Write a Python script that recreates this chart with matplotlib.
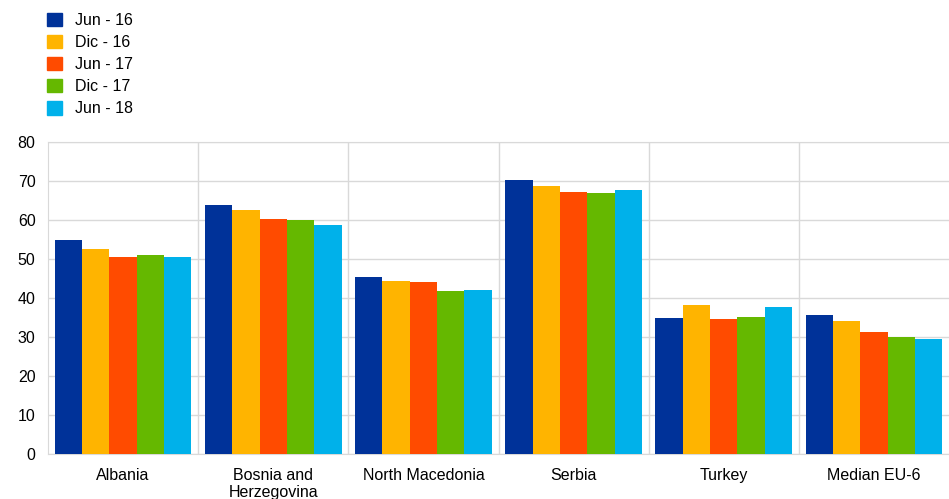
import numpy as np
import matplotlib.pyplot as plt
import matplotlib.patches as patches

# data
categories = ['Albania', 'Bosnia and\nHerzegovina', 'North Macedonia', 'Serbia', 'Turkey', 'Median EU-6']
series = ['Jun - 16', 'Dic - 16', 'Jun - 17', 'Dic - 17', 'Jun - 18']
jun16 = [54.8, 63.9, 45.5, 70.2, 35.0, 35.7]
dic16 = [52.5, 62.5, 44.3, 68.7, 38.1, 34.0]
jun17 = [50.6, 60.2, 44.1, 67.2, 34.5, 31.3]
dic17 = [51.0, 60.0, 41.9, 67.0, 35.2, 30.1]
jun18 = [50.5, 58.8, 42.1, 67.6, 37.7, 29.6]
colors = ['#003299', '#FFB400', '#FF4B00', '#65B800', '#00B1EA']

values = [jun16, dic16, jun17, dic17, jun18]

plt.rcParams['font.family'] = ['Liberation Sans', 'DejaVu Sans']

fig = plt.figure(figsize=(9.49, 4.99), dpi=100)
ax = fig.add_axes([0.0506, 0.0902, 0.9494, 0.6252])

n = len(series)
width = 0.182
x = np.arange(len(categories))
for i in range(n):
    ax.bar(x + (i - (n - 1) / 2) * width, values[i], width, color=colors[i],
           label=series[i], zorder=3)

ax.set_xlim(-0.5, len(categories) - 0.5)
ax.set_ylim(0, 80)
ax.set_yticks(range(0, 81, 10))
ax.set_xticks(x)
ax.set_xticklabels(categories, fontsize=11.5, linespacing=1.15)
ax.tick_params(axis='y', labelsize=11.5, length=0, pad=9)
ax.tick_params(axis='x', length=0, pad=10)

grid_col = '#d9d9d9'
ax.yaxis.grid(True, color=grid_col, linewidth=1, zorder=0)
for b in np.arange(0.5, len(categories) - 0.5, 1):
    ax.axvline(b, color=grid_col, linewidth=1, zorder=0)
for side in ['top', 'right', 'left', 'bottom']:
    ax.spines[side].set_color(grid_col)
ax.spines['right'].set_visible(False)

handles = [patches.Patch(color=c) for c in colors]
fig.legend(handles, series, loc='upper left', bbox_to_anchor=(0.038, 0.997),
           frameon=False, fontsize=11.5, handlelength=0.9, handleheight=0.9,
           handletextpad=0.85, labelspacing=0.44, borderaxespad=0.3)

fig.savefig('out.png', dpi=100)
